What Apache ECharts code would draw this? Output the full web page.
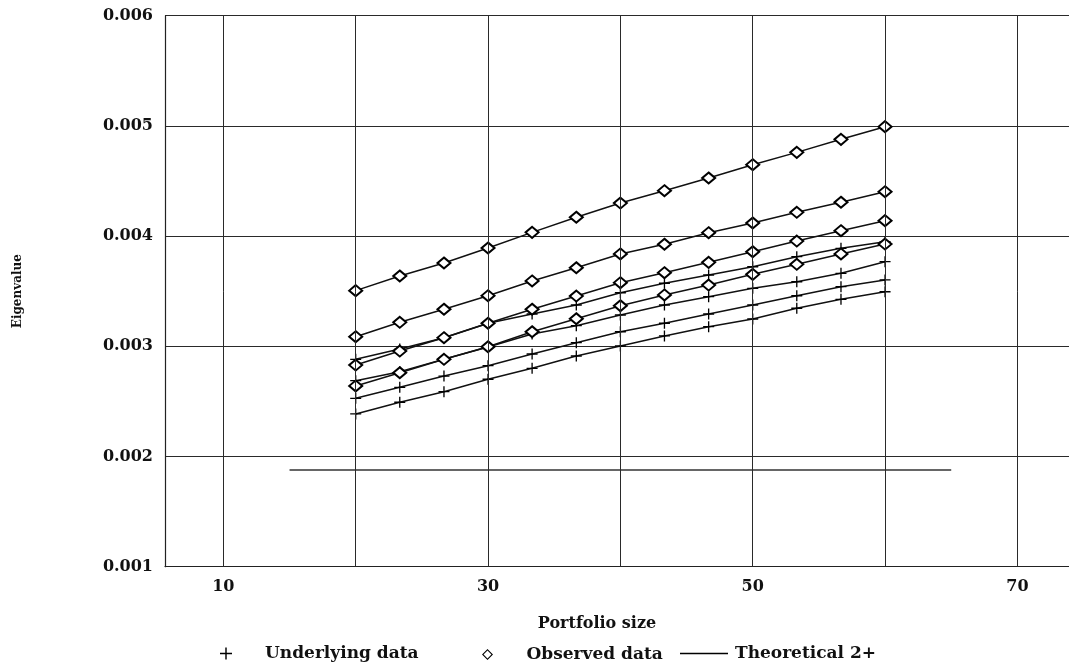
<!DOCTYPE html>
<html>
<head>
<meta charset="utf-8">
<script src="https://cdn.jsdelivr.net/npm/echarts@6/dist/echarts.min.js"></script>
<style>html,body{margin:0;padding:0;background:#fff;}#c{width:1069px;height:667px;}</style>
</head>
<body>
<div id="c"></div>
<script>
const portfolioSizes = [20, 23.33, 26.67, 30, 33.33, 36.67, 40, 43.33, 46.67, 50, 53.33, 56.67, 60];
const observed1 = [0.003505, 0.003638, 0.003756, 0.003892, 0.004034, 0.004171, 0.004300, 0.004412, 0.004527, 0.004648, 0.004760, 0.004878, 0.004993];
const observed2 = [0.003087, 0.003218, 0.003336, 0.003459, 0.003593, 0.003713, 0.003838, 0.003926, 0.004031, 0.004119, 0.004216, 0.004307, 0.004403];
const observed3 = [0.002830, 0.002957, 0.003078, 0.003209, 0.003336, 0.003456, 0.003577, 0.003668, 0.003762, 0.003858, 0.003955, 0.004049, 0.004140];
const observed4 = [0.002640, 0.002760, 0.002882, 0.002996, 0.003132, 0.003250, 0.003368, 0.003466, 0.003556, 0.003653, 0.003744, 0.003838, 0.003928];
const underlying1 = [0.002882, 0.002975, 0.003078, 0.003209, 0.003293, 0.003375, 0.003486, 0.003572, 0.003647, 0.003722, 0.003813, 0.003889, 0.003949];
const underlying2 = [0.002688, 0.002770, 0.002882, 0.002994, 0.003112, 0.003187, 0.003284, 0.003375, 0.003450, 0.003526, 0.003586, 0.003662, 0.003768];
const underlying3 = [0.002528, 0.002628, 0.002730, 0.002824, 0.002930, 0.003033, 0.003132, 0.003209, 0.003293, 0.003375, 0.003459, 0.003541, 0.003602];
const underlying4 = [0.002386, 0.002492, 0.002588, 0.002701, 0.002800, 0.002912, 0.003003, 0.003094, 0.003178, 0.003248, 0.003345, 0.003426, 0.003495];
const theoreticalX = [15, 65];
const theoreticalY = [0.001877, 0.001877];
const xTickLabels = [10, 30, 50, 70];
const xGridValues = [10, 20, 30, 40, 50, 60, 70];

const FONT = 'DejaVu Serif';
const plusIcon = 'path://M4.4,0H5.6V10H4.4ZM0,4.4H10V5.6H0Z';
const diamondIcon = 'path://M5,0L10,5L5,10L0,5Z M5,1.4L1.4,5L5,8.6L8.6,5Z';
const lineIcon = 'path://M0,0H48V1.4H0Z';

function pairs(xs, ys) { return xs.map((x, i) => [x, ys[i]]); }

const series = [];
[underlying1, underlying2, underlying3, underlying4].forEach(arr => {
  series.push({
    name: 'Underlying data', type: 'line', data: pairs(portfolioSizes, arr),
    symbol: plusIcon, symbolSize: 11, showAllSymbol: true,
    lineStyle: { color: '#111', width: 1.5 }, itemStyle: { color: '#000' },
    animation: false, silent: true, z: 3
  });
});
[observed1, observed2, observed3, observed4].forEach(arr => {
  series.push({
    name: 'Observed data', type: 'line', data: pairs(portfolioSizes, arr),
    symbol: 'emptyDiamond', symbolSize: [13, 11], showAllSymbol: true,
    lineStyle: { color: '#111', width: 1.5 }, itemStyle: { color: '#000', borderWidth: 1 },
    animation: false, silent: true, z: 4
  });
});
series.push({
  name: 'Theoretical 2+', type: 'line', data: pairs(theoreticalX, theoreticalY),
  showSymbol: false, symbol: 'none', lineStyle: { color: '#333', width: 1.5 },
  itemStyle: { color: '#000' }, animation: false, silent: true, z: 3
});
series.push({
  name: 'grid', type: 'line', data: [], animation: false, silent: true, z: 1,
  markLine: {
    silent: true, symbol: ['none', 'none'], animation: false, label: { show: false },
    lineStyle: { type: 'solid', color: '#2a2a2a', width: 1 },
    data: xGridValues.map(v => ({ xAxis: v }))
  }
});

const legendText = { fontFamily: FONT, fontWeight: 'bold', fontSize: 17, color: '#111' };

const chart = echarts.init(document.getElementById('c'), null, { renderer: 'canvas' });
chart.setOption({
  backgroundColor: '#fff',
  animation: false,
  grid: { left: 165, right: 0, top: 15.7, bottom: 100.3, containLabel: false },
  xAxis: {
    type: 'value', min: 5.59, max: 73.9,
    name: 'Portfolio size', nameLocation: 'middle', nameGap: 49,
    nameTextStyle: { fontFamily: FONT, fontWeight: 'bold', fontSize: 16, color: '#111', padding: [0, 40, 0, 0] },
    axisLine: { show: true, lineStyle: { color: '#222', width: 1.2 } },
    axisTick: { show: false },
    splitLine: { show: false },
    axisLabel: { customValues: xTickLabels, margin: 12, fontFamily: FONT, fontWeight: 'bold', fontSize: 16, color: '#111' }
  },
  yAxis: {
    type: 'value', min: 0.001, max: 0.006, interval: 0.001,
    name: 'Eigenvalue', nameLocation: 'middle', nameGap: 141,
    nameTextStyle: { fontFamily: FONT, fontWeight: 'bold', fontSize: 12, color: '#111' },
    axisLine: { show: true, lineStyle: { color: '#222', width: 1.2 } },
    axisTick: { show: false },
    splitLine: { show: true, lineStyle: { color: '#2a2a2a', width: 1 } },
    axisLabel: { formatter: v => v.toFixed(3), margin: 12, fontFamily: FONT, fontWeight: 'bold', fontSize: 16, color: '#111' }
  },
  legend: [
    { left: 220, top: 645, padding: 0, itemWidth: 12, itemHeight: 12, selectedMode: false,
      data: [{ name: 'Underlying data', icon: plusIcon }], textStyle: Object.assign({ padding: [0, 0, 0, 28] }, legendText) },
    { left: 482, top: 646, padding: 0, itemWidth: 12, itemHeight: 11, selectedMode: false,
      data: [{ name: 'Observed data', icon: diamondIcon }], textStyle: Object.assign({ padding: [0, 0, 0, 28] }, legendText) },
    { left: 680, top: 645, padding: 0, itemWidth: 48, itemHeight: 12, selectedMode: false,
      data: [{ name: 'Theoretical 2+', icon: lineIcon }], textStyle: Object.assign({ padding: [0, 0, 0, 2] }, legendText) }
  ],
  series: series
});
</script>
</body>
</html>
